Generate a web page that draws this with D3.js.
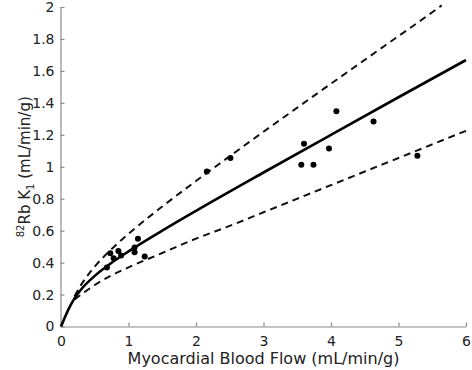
<!DOCTYPE html>
<html>
<head>
<meta charset="utf-8">
<script src="https://cdn.jsdelivr.net/npm/d3@7"></script>
<style>
  html, body { margin: 0; padding: 0; background: #fff; }
  svg { display: block; }
  text { font-family: "DejaVu Sans", sans-serif; fill: #222; }
</style>
</head>
<body>
<svg id="chart" width="472" height="370"></svg>
<script>
// ---- data ----
const flowPoints = [0.68, 0.73, 0.78, 0.85, 0.89, 1.09, 1.09, 1.14, 1.24, 2.16, 2.51, 3.56, 3.60, 3.74, 3.97, 4.08, 4.63, 5.28];
const k1Points   = [0.369, 0.459, 0.428, 0.473, 0.444, 0.465, 0.494, 0.549, 0.438, 0.97, 1.055, 1.013, 1.144, 1.013, 1.115, 1.347, 1.284, 1.069];

const fitFlow = [0, 0.05, 0.1, 0.2, 0.3, 0.5, 0.75, 1, 1.5, 2, 3, 4, 5, 6];
const fitK1   = [0, 0.05, 0.098, 0.176, 0.233, 0.317, 0.399, 0.47, 0.60, 0.724, 0.964, 1.20, 1.435, 1.668];

const upperFlow = [0.2, 0.3, 0.5, 0.75, 1, 1.5, 2, 2.5, 3, 3.5, 4, 4.5, 5, 5.5, 5.64];
const upperK1   = [0.189, 0.262, 0.375, 0.485, 0.58, 0.751, 0.911, 1.066, 1.219, 1.37, 1.52, 1.669, 1.818, 1.967, 2.01];

const lowerFlow = [0.2, 0.3, 0.5, 0.75, 1, 1.5, 2, 2.5, 3, 3.5, 4, 4.5, 5, 5.5, 6];
const lowerK1   = [0.17, 0.2, 0.26, 0.32, 0.37, 0.46, 0.55, 0.63, 0.715, 0.8, 0.885, 0.97, 1.055, 1.14, 1.225];

const xTicks = [0, 1, 2, 3, 4, 5, 6];
const xTickLabels = ["0", "1", "2", "3", "4", "5", "6"];
const yTicks = [0, 0.2, 0.4, 0.6, 0.8, 1, 1.2, 1.4, 1.6, 1.8, 2];
const yTickLabels = ["0", "0.2", "0.4", "0.6", "0.8", "1", "1.2", "1.4", "1.6", "1.8", "2"];

// ---- drawing ----
const svg = d3.select("#chart");
const x = d3.scaleLinear().domain([0, 6]).range([61, 466]);
const y = d3.scaleLinear().domain([0, 2]).range([326.5, 7]);

const axisColor = "#8a8a8a";

// x axis
const gx = svg.append("g").attr("transform", "translate(0,326.5)")
  .call(d3.axisBottom(x).tickValues(xTicks)
    .tickFormat((d, i) => xTickLabels[i])
    .tickSizeInner(-4).tickSizeOuter(0).tickPadding(10));
gx.select(".domain").attr("stroke", axisColor).attr("stroke-width", 1.2);
gx.selectAll(".tick line").attr("stroke", axisColor).attr("stroke-width", 1.2);
gx.selectAll(".tick text").attr("font-size", 14).attr("font-family", "DejaVu Sans").attr("fill", "#222");

// y axis
const gy = svg.append("g").attr("transform", "translate(60.5,0)")
  .call(d3.axisLeft(y).tickValues(yTicks)
    .tickFormat((d, i) => yTickLabels[i])
    .tickSizeInner(-4).tickSizeOuter(0).tickPadding(6));
gy.select(".domain").attr("stroke", axisColor).attr("stroke-width", 1.2);
gy.selectAll(".tick line").attr("stroke", axisColor).attr("stroke-width", 1.2);
gy.selectAll(".tick text").attr("font-size", 14).attr("font-family", "DejaVu Sans").attr("fill", "#222");

// axis labels
svg.append("text")
  .attr("x", x(3)).attr("y", 364)
  .attr("text-anchor", "middle")
  .attr("font-size", 16)
  .text("Myocardial Blood Flow (mL/min/g)");

const yl = svg.append("text")
  .attr("transform", `translate(30,${y(1)}) rotate(-90)`)
  .attr("text-anchor", "middle")
  .attr("font-size", 15);
yl.append("tspan").attr("font-size", 10).attr("dy", -6).text("82");
yl.append("tspan").attr("dy", 6).text("Rb K");
yl.append("tspan").attr("font-size", 10).attr("dy", 4).text("1");
yl.append("tspan").attr("dy", -4).text(" (mL/min/g)");

// curves
const line = d3.line().x(d => x(d[0])).y(d => y(d[1])).curve(d3.curveMonotoneX);

svg.append("path")
  .datum(upperFlow.map((f, i) => [f, upperK1[i]]))
  .attr("d", line).attr("fill", "none").attr("stroke", "#111")
  .attr("stroke-width", 2).attr("stroke-dasharray", "7,5");

svg.append("path")
  .datum(lowerFlow.map((f, i) => [f, lowerK1[i]]))
  .attr("d", line).attr("fill", "none").attr("stroke", "#111")
  .attr("stroke-width", 2).attr("stroke-dasharray", "7,5");

svg.append("path")
  .datum(fitFlow.map((f, i) => [f, fitK1[i]]))
  .attr("d", line).attr("fill", "none").attr("stroke", "#000")
  .attr("stroke-width", 2.6);

// points
svg.append("g").selectAll("circle")
  .data(flowPoints.map((f, i) => [f, k1Points[i]]))
  .join("circle")
  .attr("cx", d => x(d[0])).attr("cy", d => y(d[1]))
  .attr("r", 3).attr("fill", "#000");
</script>
</body>
</html>
